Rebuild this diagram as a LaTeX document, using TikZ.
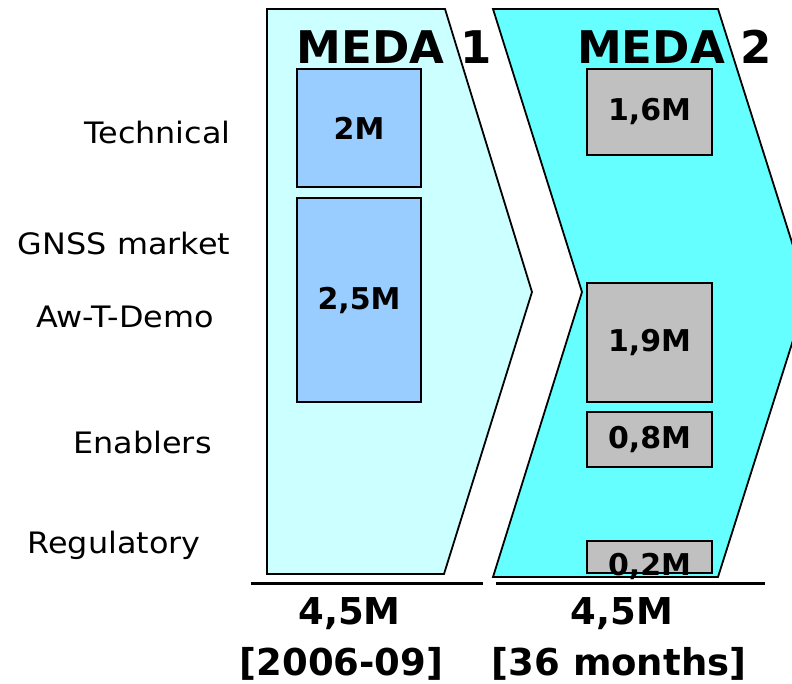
\documentclass[tikz,border=0pt]{standalone}
\usepackage{fontspec}
\setmainfont{DejaVu Sans}
\newfontfamily\largafont[FakeStretch=1.08]{DejaVu Sans}
\definecolor{medaum}{HTML}{CCFFFF}
\definecolor{medadois}{HTML}{66FFFF}
\definecolor{caixaazul}{HTML}{99CCFF}
\definecolor{caixacinza}{HTML}{C0C0C0}
\begin{document}
\begin{tikzpicture}[x=1pt,y=-1pt,line width=1.8pt,
  bloco/.style={draw,inner sep=0pt,font=\bfseries\fontsize{30}{30}\selectfont},
  rotulo/.style={anchor=base,font=\largafont\fontsize{29.5}{30}\selectfont},
  titulo/.style={anchor=base,font=\bfseries\fontsize{45}{45}\selectfont},
  total/.style={anchor=base,font=\bfseries\fontsize{37}{37}\selectfont}]
\useasboundingbox (0,0) rectangle (792,683);
%setas
  \filldraw[fill=medaum] (267,9) -- (445,9) -- (532,292) -- (444,574) -- (267,574) -- cycle;
  \filldraw[fill=medadois] (493,9) -- (718,9) -- (808,293) -- (718,577) -- (493,577) -- (582,292) -- cycle;
  \draw[line width=3pt] (251,583) -- (483,583);
  \draw[line width=3pt] (496,583) -- (765,583);
%titulos
  \node[titulo] (meda1) at (394,63) {MEDA 1};
  \node[titulo] (meda2) at (674.5,63) {MEDA 2};
%blocos
  \node[bloco,fill=caixaazul,minimum width=124pt,minimum height=118pt] (tec1) at (359,128) {2M};
  \node[bloco,fill=caixaazul,minimum width=124pt,minimum height=204pt] (gnss1) at (359,300) {2,5M};
  \node[bloco,fill=caixacinza,minimum width=125pt,minimum height=86pt] (tec2) at (649.5,112) {1,6M};
  \node[bloco,fill=caixacinza,minimum width=125pt,minimum height=119pt] (demo2) at (649.5,342.5) {1,9M};
  \node[bloco,fill=caixacinza,minimum width=125pt,minimum height=55pt] (enab2) at (649.5,439.5) {0,8M};
  \node[bloco,fill=caixacinza,minimum width=125pt,minimum height=32pt] (reg2) at (649.5,557) {};
  \node[bloco,draw=none] (reg2txt) at ([yshift=-9pt]reg2.center) {0,2M};
%rotulos
  \node[rotulo] (tecnico) at (157.5,143) {Technical};
  \node[rotulo] (mercado) at (124,254) {GNSS market};
  \node[rotulo] (demo) at (125,327) {Aw-T-Demo};
  \node[rotulo] (enablers) at (142.5,453) {Enablers};
  \node[rotulo] (regul) at (114,553) {Regulatory};
%totais
  \node[total] (soma1) at (349.5,624) {4,5M};
  \node[total] (soma2) at (622,624) {4,5M};
  \node[total] (periodo1) at (341.5,675) {[2006-09]};
  \node[total] (periodo2) at (619,675) {[36 months]};
\end{tikzpicture}
\end{document}
